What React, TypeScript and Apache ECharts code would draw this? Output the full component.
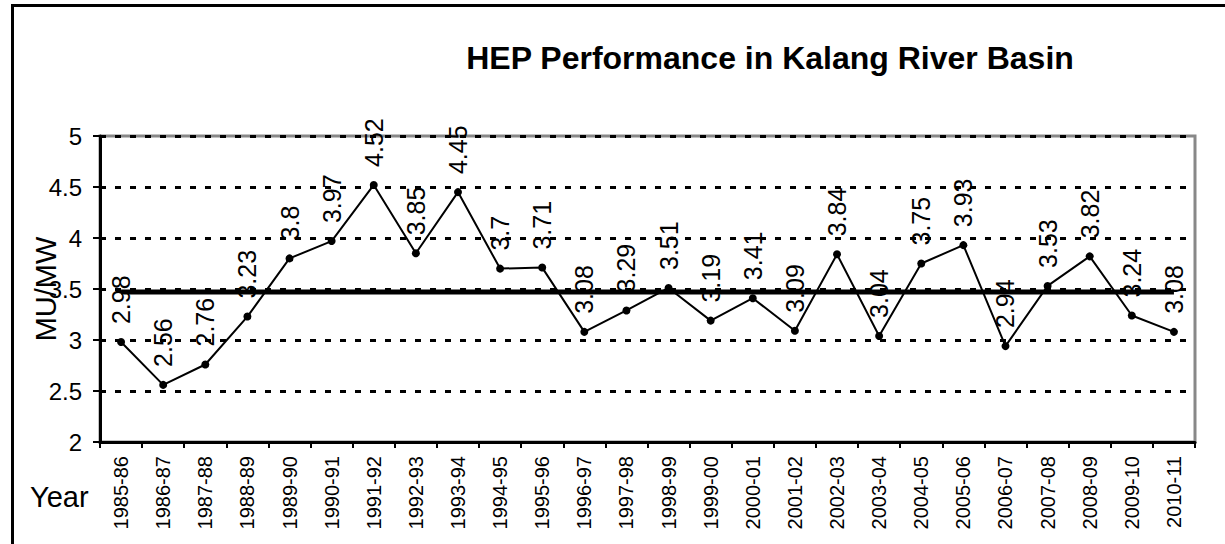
import React, { useEffect, useRef } from "react";
import * as echarts from "echarts";

const categories = [
  "1985-86", "1986-87", "1987-88", "1988-89", "1989-90", "1990-91", "1991-92",
  "1992-93", "1993-94", "1994-95", "1995-96", "1996-97", "1997-98", "1998-99",
  "1999-00", "2000-01", "2001-02", "2002-03", "2003-04", "2004-05", "2005-06",
  "2006-07", "2007-08", "2008-09", "2009-10", "2010-11",
];

const performance = [
  2.98, 2.56, 2.76, 3.23, 3.8, 3.97, 4.52, 3.85, 4.45, 3.7, 3.71, 3.08, 3.29,
  3.51, 3.19, 3.41, 3.09, 3.84, 3.04, 3.75, 3.93, 2.94, 3.53, 3.82, 3.24, 3.08,
];

const MEAN_VALUE = 3.47;

const yTicks = { min: 2, max: 5, interval: 0.5 };

const TITLE = "HEP Performance in Kalang River Basin";
const Y_NAME = "MU/MW";
const X_NAME = "Year";

const FONT = "'Liberation Sans', Arial, sans-serif";

export default function App() {
  const ref = useRef<HTMLDivElement>(null);

  useEffect(() => {
    if (!ref.current) return;
    const chart = echarts.init(ref.current, null, { renderer: "svg" });
    const meanData = categories.map(() => MEAN_VALUE);
    chart.setOption({
      animation: false,
      backgroundColor: "#fff",
      textStyle: { fontFamily: FONT },
      grid: {
        left: 100,
        right: 30,
        top: 136,
        bottom: 102,
        show: true,
        backgroundColor: "transparent",
        borderColor: "#888888",
        borderWidth: 3,
      },
      graphic: [
        {
          type: "rect",
          shape: { x: 12.5, y: 5.5, width: 1400, height: 700 },
          style: { fill: "none", stroke: "#000", lineWidth: 3 },
          silent: true,
          z: 100,
        },
        {
          type: "text",
          x: 770,
          y: 58,
          style: {
            text: TITLE,
            fontSize: 32,
            fontWeight: "bold",
            fontFamily: FONT,
            fill: "#000",
            align: "center",
            verticalAlign: "middle",
          },
        },
        {
          type: "text",
          x: 46,
          y: 289,
          rotation: Math.PI / 2,
          style: {
            text: Y_NAME,
            fontSize: 29,
            fontFamily: FONT,
            fill: "#000",
            align: "center",
            verticalAlign: "middle",
          },
          z: 50,
        },
        {
          type: "text",
          x: 30,
          y: 497,
          style: {
            text: X_NAME,
            fontSize: 29,
            fontFamily: FONT,
            fill: "#000",
            align: "left",
            verticalAlign: "middle",
          },
        },
      ],
      xAxis: {
        type: "category",
        data: categories,
        boundaryGap: true,
        axisLine: { show: true, lineStyle: { color: "#000", width: 3 } },
        axisTick: {
          show: true,
          interval: 0,
          length: 6,
          lineStyle: { color: "#000", width: 2 },
        },
        axisLabel: {
          interval: 0,
          rotate: 90,
          fontSize: 20,
          margin: 14,
          color: "#000",
          fontFamily: FONT,
        },
        splitLine: { show: false },
      },
      yAxis: {
        type: "value",
        min: yTicks.min,
        max: yTicks.max,
        interval: yTicks.interval,
        axisLine: { show: true, lineStyle: { color: "#000", width: 3 } },
        axisTick: { show: true, length: 7, lineStyle: { color: "#000", width: 2 } },
        axisLabel: {
          fontSize: 24,
          margin: 18,
          color: "#000",
          fontFamily: FONT,
        },
        splitLine: {
          show: true,
          lineStyle: { color: "#000", width: 3, type: [6, 9] },
        },
      },
      series: [
        {
          name: "Mean",
          type: "line",
          data: meanData,
          symbol: "none",
          lineStyle: { color: "#000", width: 5 },
          z: 2,
        },
        {
          name: "Performance",
          type: "line",
          data: performance,
          symbol: "circle",
          symbolSize: 8,
          itemStyle: { color: "#000" },
          lineStyle: { color: "#000", width: 2 },
          label: {
            show: true,
            position: "top",
            distance: 14,
            rotate: 90,
            align: "left",
            verticalAlign: "middle",
            fontSize: 25,
            color: "#000",
            fontFamily: FONT,
          },
          z: 3,
        },
      ],
    });
    return () => chart.dispose();
  }, []);

  return (
    <div
      ref={ref}
      style={{
        position: "absolute",
        left: 0,
        top: 0,
        width: 1225,
        height: 544,
        background: "#fff",
      }}
    />
  );
}
